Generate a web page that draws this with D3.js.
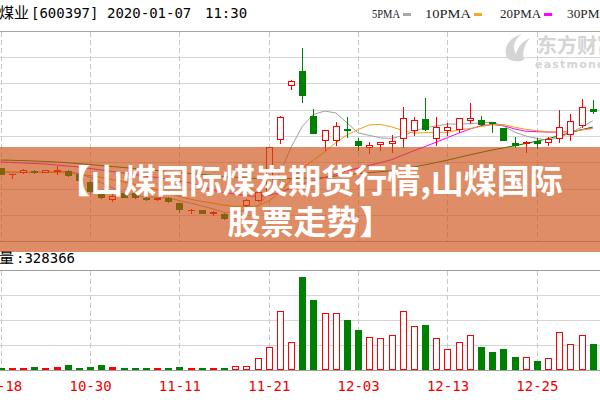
<!DOCTYPE html>
<html><head><meta charset="utf-8">
<script src="https://cdn.jsdelivr.net/npm/d3@7/dist/d3.min.js"></script>
<style>body{margin:0;background:#fff}svg{display:block}</style>
</head><body><svg id="c" width="600" height="400"></svg>
<script>
const dates = ["2019-10-18","2019-10-21","2019-10-22","2019-10-23","2019-10-24","2019-10-25","2019-10-28","2019-10-29","2019-10-30","2019-10-31",
"2019-11-01","2019-11-04","2019-11-05","2019-11-06","2019-11-07","2019-11-08","2019-11-11","2019-11-12","2019-11-13","2019-11-14",
"2019-11-15","2019-11-18","2019-11-19","2019-11-20","2019-11-21","2019-11-22","2019-11-25","2019-11-26","2019-11-27","2019-11-28",
"2019-11-29","2019-12-02","2019-12-03","2019-12-04","2019-12-05","2019-12-06","2019-12-09","2019-12-10","2019-12-11","2019-12-12",
"2019-12-13","2019-12-16","2019-12-17","2019-12-18","2019-12-19","2019-12-20","2019-12-23","2019-12-24","2019-12-25","2019-12-26",
"2019-12-27","2019-12-30","2019-12-31","2020-01-02"];
const open = [3.727,3.665,3.695,3.700,3.695,3.702,3.700,3.667,3.590,3.477,
3.420,3.480,3.475,3.430,3.425,3.435,3.375,3.310,3.310,3.280,
3.275,3.240,3.360,3.410,3.500,4.017,4.560,4.700,4.250,4.015,
4.015,4.115,4.000,3.940,3.967,3.977,4.027,4.110,4.215,4.027,
4.110,4.117,4.210,4.210,4.190,4.127,3.975,3.985,3.995,3.993,
4.027,4.070,4.160,4.317];
const high = [3.730,3.670,3.723,3.715,3.715,3.750,3.710,3.670,3.600,3.490,
3.480,3.490,3.480,3.440,3.430,3.440,3.380,3.320,3.310,3.300,
3.280,3.350,3.420,3.510,3.945,4.245,4.605,4.927,4.320,4.110,
4.187,4.240,4.027,3.993,3.990,4.060,4.335,4.243,4.427,4.243,
4.177,4.230,4.380,4.250,4.190,4.130,4.043,3.995,4.027,4.037,
4.310,4.267,4.420,4.410];
const low = [3.665,3.627,3.677,3.680,3.685,3.670,3.650,3.600,3.490,3.430,
3.400,3.440,3.435,3.410,3.410,3.393,3.290,3.277,3.280,3.260,
3.225,3.230,3.350,3.400,3.490,3.977,4.517,4.393,4.080,3.910,
3.960,4.043,3.910,3.877,3.910,3.893,3.940,4.060,4.110,3.960,
4.060,4.093,4.177,4.155,4.090,4.005,3.937,3.893,3.927,3.960,
3.993,4.010,4.143,4.277];
const close = [3.670,3.670,3.705,3.695,3.705,3.710,3.660,3.610,3.500,3.437,
3.450,3.445,3.440,3.425,3.430,3.405,3.320,3.315,3.283,3.285,
3.230,3.340,3.410,3.490,3.940,4.243,4.603,4.460,4.085,4.105,
4.150,4.110,3.955,3.960,3.987,4.000,4.230,4.205,4.125,4.143,
4.145,4.227,4.227,4.165,4.177,4.010,3.960,3.993,3.985,4.017,
4.143,4.200,4.345,4.303];
const volume = [10000,10000,10000,11200,10000,11200,18800,10000,14000,18000,
14000,10000,10000,10000,10000,10000,14000,10000,10000,10000,
10000,15200,15200,48000,93200,237200,110800,373200,280000,226800,
226800,200000,160000,133200,128000,140000,237200,176000,181200,128000,
82800,110800,138800,93200,70800,82800,53200,53200,36000,46800,
150800,105200,140000,105200];
const ma5 = [3.685,3.682,3.685,3.687,3.688,3.696,3.695,3.676,3.637,3.583,
3.531,3.488,3.454,3.439,3.438,3.429,3.404,3.379,3.351,3.321,
3.286,3.290,3.309,3.350,3.482,3.685,3.937,4.147,4.266,4.299,
4.281,4.182,4.081,4.056,4.032,4.025,4.055,4.095,4.135,4.150,
4.170,4.169,4.173,4.181,4.188,4.150,4.090,4.050,4.025,4.010,
4.035,4.080,4.138,4.202];
const ma10 = [3.695,3.692,3.690,3.688,3.686,3.684,3.680,3.670,3.655,3.636,
3.614,3.592,3.565,3.538,3.511,3.480,3.446,3.417,3.395,3.379,
3.357,3.347,3.344,3.350,3.401,3.485,3.613,3.728,3.808,3.891,
3.983,4.060,4.114,4.161,4.166,4.141,4.104,4.079,4.083,4.086,
4.086,4.110,4.125,4.145,4.164,4.165,4.138,4.117,4.103,4.091,
4.090,4.095,4.110,4.125];
const ma20 = [3.790,3.785,3.780,3.775,3.770,3.760,3.750,3.740,3.725,3.710,
3.695,3.680,3.665,3.650,3.635,3.620,3.600,3.580,3.545,3.507,
3.485,3.469,3.454,3.444,3.456,3.483,3.530,3.572,3.602,3.635,
3.670,3.703,3.729,3.756,3.784,3.813,3.859,3.903,3.945,3.989,
4.034,4.079,4.119,4.153,4.165,4.153,4.121,4.098,4.093,4.089,
4.088,4.093,4.112,4.129];
const ma30 = [3.810,3.807,3.804,3.800,3.795,3.790,3.782,3.774,3.765,3.755,
3.745,3.735,3.725,3.715,3.705,3.695,3.685,3.675,3.665,3.655,
3.645,3.637,3.630,3.625,3.622,3.622,3.625,3.628,3.631,3.635,
3.651,3.666,3.674,3.683,3.693,3.702,3.721,3.741,3.762,3.785,
3.809,3.835,3.861,3.886,3.910,3.931,3.952,3.975,3.998,4.023,
4.053,4.082,4.113,4.140];
const labelDates = ["2019-10-18","2019-10-30","2019-11-11","2019-11-21","2019-12-03","2019-12-13","2019-12-25"];
const legendLabels = ["5PMA","10PMA","20PMA","30PMA"];
const titleName = "煤业";
const titleCode = "[600397]";
const titleDate = "2020-01-07";
const titleTime = "11:30";
const volLabel = "量";
const volValue = ":328366";
const bannerLines = ["【山煤国际煤炭期货行情,山煤国际","股票走势】"];

const W = 600;
const svg = d3.select("#c");
const x = d3.scalePoint().domain(dates).range([0.7, 592.7]);
const y = d3.scaleLinear().domain([3.0, 5.1]).range([241, 31]);
const yv = d3.scaleLinear().domain([0, 400000]).range([370, 270]);
const RED = "#f00", GREEN = "#008000";
const px = d => Math.round(x(d));

// ---- grid ----
const grid = svg.append("g");
const pTicks = d3.range(9).map(k => 3.0 + k * (2.1 / 8));
grid.selectAll(".hp").data(pTicks).join("line")
  .attr("x1", 0).attr("x2", W)
  .attr("y1", d => Math.round(y(d)) + 0.5).attr("y2", d => Math.round(y(d)) + 0.5)
  .attr("stroke", (d, i) => (i === 8 || i === 0) ? "#a8a8a8" : "#d6d6d6");
const vTicks = d3.range(5).map(k => k * 100000);
grid.selectAll(".hv").data(vTicks).join("line")
  .attr("x1", 0).attr("x2", W)
  .attr("y1", d => Math.round(yv(d)) + 0.5).attr("y2", d => Math.round(yv(d)) + 0.5)
  .attr("stroke", (d, i) => (i === 4 || i === 0) ? "#a0a0a0" : "#d6d6d6");
labelDates.forEach(d => {
  const xx = px(d) + 0.5;
  grid.append("line").attr("x1", xx).attr("x2", xx).attr("y1", 32).attr("y2", 241)
    .attr("stroke", "#c8c8c8").attr("stroke-dasharray", "5,3");
  grid.append("line").attr("x1", xx).attr("x2", xx).attr("y1", 271).attr("y2", 370)
    .attr("stroke", "#c8c8c8").attr("stroke-dasharray", "5,3");
});

// ---- watermark ----
const wm = svg.append("g").attr("fill", "#d4d4d4");
wm.append("path").attr("d", "M507,58 C503,48 508,38 522,34 C514,40 512,47 516,54 C518,46 523,41 530,38 C524,45 522,52 524,60 C519,62 512,62 507,58 Z");
wm.append("text").attr("x", 537).attr("y", 53).attr("font-family", "Noto Sans CJK SC").attr("font-weight", "bold")
  .attr("font-size", 20).text("东方财富");
wm.append("text").attr("x", 535).attr("y", 68).attr("font-family", "Verdana, DejaVu Sans").attr("font-weight", "bold")
  .attr("font-size", 11).attr("letter-spacing", 1.2).text("eastmoney");

// ---- MA lines ----
const idx = d3.range(dates.length);
const line = arr => d3.line().x(i => x(dates[i])).y(i => y(arr[i]))(idx);
[[ma30, "#008000"], [ma20, "#ff00ff"], [ma10, "#f0a010"], [ma5, "#a0a0a0"]].forEach(([arr, col]) => {
  svg.append("path").attr("d", line(arr)).attr("fill", "none").attr("stroke", col).attr("stroke-width", 1);
});

// ---- candles ----
const cg = svg.append("g");
idx.forEach(i => {
  const d = dates[i], c = px(d);
  const up = close[i] >= open[i];
  const col = up ? RED : GREEN;
  const yt = Math.round(y(Math.max(open[i], close[i])));
  const yb = Math.round(y(Math.min(open[i], close[i])));
  cg.append("line").attr("x1", c + 0.5).attr("x2", c + 0.5)
    .attr("y1", Math.round(y(high[i]))).attr("y2", Math.round(y(low[i])) + 1)
    .attr("stroke", col);
  if (up && yb - yt >= 2) {
    cg.append("rect").attr("x", c - 2.5).attr("y", yt + 0.5).attr("width", 6).attr("height", yb - yt)
      .attr("fill", "#fff").attr("stroke", col);
  } else {
    cg.append("rect").attr("x", c - 3).attr("y", yt).attr("width", 7).attr("height", Math.max(1, yb - yt + 1))
      .attr("fill", col);
  }
});

// ---- volume ----
const vg = svg.append("g");
idx.forEach(i => {
  const c = px(dates[i]);
  const up = close[i] >= open[i];
  const col = up ? RED : GREEN;
  const top = Math.round(yv(volume[i])), base = Math.round(yv(0));
  if (up && base - top > 3) {
    vg.append("rect").attr("x", c - 2.5).attr("y", top + 0.5).attr("width", 6).attr("height", base - top - 1)
      .attr("fill", "#fff").attr("stroke", col);
  } else {
    vg.append("rect").attr("x", c - 3).attr("y", top).attr("width", 7).attr("height", base - top)
      .attr("fill", col);
  }
});

// ---- x axis labels ----
const ax = svg.append("g").attr("transform", "translate(0,378)")
  .call(d3.axisBottom(x).tickValues(labelDates).tickSize(0).tickPadding(3).tickFormat(d => d.slice(5)));
ax.select(".domain").remove();
ax.selectAll("text").attr("fill", "#e00").attr("font-family", "DejaVu Sans Mono").attr("font-size", 14);

// ---- title & legend ----
const t = svg.append("text").attr("y", 18).attr("fill", "#000");
t.append("tspan").attr("x", -1).attr("font-family", "Noto Sans CJK SC").attr("font-size", 15).text(titleName);
t.append("tspan").attr("x", 31).attr("font-family", "DejaVu Sans Mono").attr("font-size", 14).text(titleCode);
t.append("tspan").attr("x", 107).attr("font-family", "DejaVu Sans Mono").attr("font-size", 14).text(titleDate);
t.append("tspan").attr("x", 205).attr("font-family", "DejaVu Sans Mono").attr("font-size", 14).text(titleTime);

const legCols = ["#a8a8a8", "#f5a623", "#ff00ff", "#008000"];
const legX = [372, 425, 500, 567];
const legW = [28, 46, 41, 42];
legendLabels.forEach((l, i) => {
  svg.append("text").attr("x", legX[i]).attr("y", 18).attr("font-family", "Liberation Serif")
    .attr("font-size", 13).attr("fill", "#222").attr("textLength", legW[i]).attr("lengthAdjust", "spacingAndGlyphs").text(l);
  svg.append("rect").attr("x", legX[i] + legW[i] + 3).attr("y", 13).attr("width", 8).attr("height", 3).attr("fill", legCols[i]);
});

// ---- volume label ----
const vt = svg.append("text").attr("y", 263).attr("fill", "#000");
vt.append("tspan").attr("x", -1).attr("font-family", "Noto Sans CJK SC").attr("font-size", 15).text(volLabel);
vt.append("tspan").attr("x", 16).attr("font-family", "DejaVu Sans Mono").attr("font-size", 14).text(volValue);

// ---- banner ----
svg.append("rect").attr("x", 0).attr("y", 147).attr("width", W).attr("height", 105)
  .attr("fill", "rgb(205,80,20)").attr("opacity", 0.65);
const bt = svg.append("g").attr("fill", "#fff").attr("font-family", "Noto Sans CJK SC").attr("font-weight", "bold")
  .attr("font-size", 33).attr("text-anchor", "middle");
bannerLines.forEach((l, i) => bt.append("text").attr("x", 310).attr("y", 193 + i * 41).text(l));
</script></body></html>
